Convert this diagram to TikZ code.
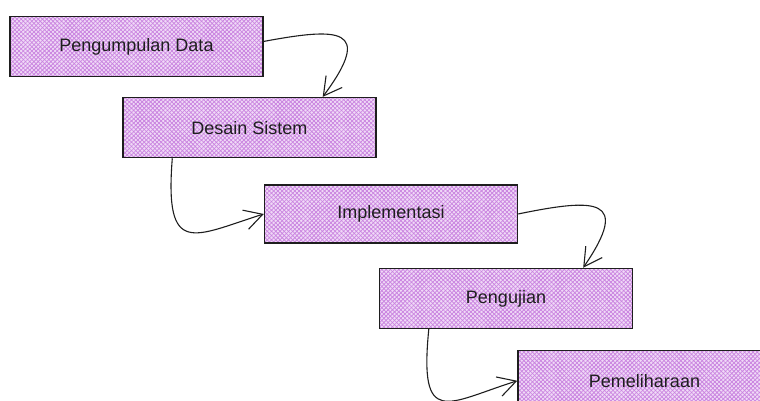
\documentclass[tikz,border=0pt]{standalone}
\usepackage{fontspec}
\setmainfont{Liberation Sans}
\usepackage[dvipsnames, x11names]{xcolor}
\usepackage{tikz}
\usetikzlibrary{positioning}
\usetikzlibrary{arrows.meta, patterns.meta}

\definecolor{hatchviolet}{RGB}{202,132,224}
\definecolor{paleviolet}{RGB}{240,218,247}
\definecolor{inkgray}{RGB}{30,30,30}

\tikzset{
    phase/.style={draw=inkgray, line width=1.4pt, minimum width=253pt, minimum height=60pt,
        preaction={fill=paleviolet},
        preaction={pattern={Lines[angle=45, distance=3pt, line width=0.75pt]}, pattern color=hatchviolet},
        pattern={Lines[angle=-45, distance=3pt, line width=0.75pt]}, pattern color=hatchviolet,
        font=\fontsize{18}{20}\selectfont, text=inkgray},
    flow/.style={draw=inkgray, line width=1.1pt, -{Straight Barb[length=18pt, width=20pt, line width=1.1pt]}}
}

\begin{document}
\begin{tikzpicture}[x=1pt, y=-1pt]
    \useasboundingbox (0,0) rectangle (760,401);
    \node[phase] (pd) at (136.5,46.5) {Pengumpulan Data};
     \node[phase] (ds) [below = 20pt of pd, xshift=113pt] {Desain Sistem};
    \node[phase, minimum height=58pt] (im) [below = 26pt of ds, xshift=141.5pt] {Implementasi};
      \node[phase] (pj) [below = 24pt of im, xshift=115pt] {Pengujian};
      \node[phase] (pm) [below = 21pt of pj, xshift=138.5pt] {Pemeliharaan};

    \draw[flow] ([yshift=5pt]pd.east) .. controls +(75,-14) and +(52,-70) .. ([xshift=-54pt]ds.north east);
    \draw[flow] ([xshift=50pt]ds.south west) .. controls +(-8,100) and +(-70,22) .. (im.west);
    \draw[flow] (im.east) .. controls +(78,-16) and +(48,-70) .. ([xshift=-50pt]pj.north east);
    \draw[flow] ([xshift=50pt]pj.south west) .. controls +(-10,100) and +(-70,22) .. (pm.west);
\end{tikzpicture}
\end{document}
